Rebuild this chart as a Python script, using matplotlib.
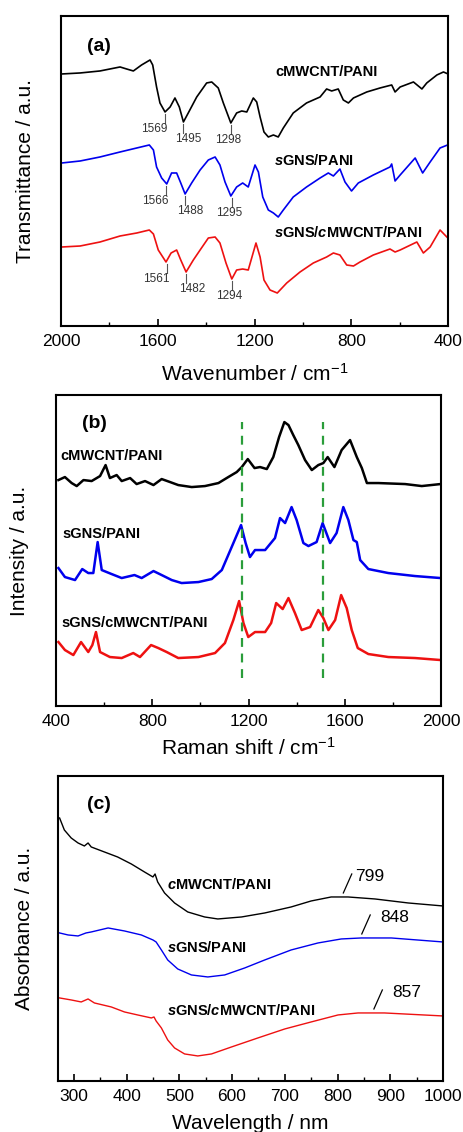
import matplotlib
matplotlib.use('Agg')
import matplotlib.pyplot as plt
from matplotlib.ticker import MultipleLocator

plt.rcParams['font.family'] = ['Liberation Sans', 'DejaVu Sans']
plt.rcParams['mathtext.fontset'] = 'custom'
plt.rcParams['mathtext.rm'] = 'Liberation Sans'
plt.rcParams['mathtext.it'] = 'Liberation Sans:italic:bold'
plt.rcParams['mathtext.bf'] = 'Liberation Sans:bold'

# ---- (a) FTIR ----
ir_x_black = [1997, 1921, 1839, 1756, 1729, 1701, 1667, 1632, 1621, 1605, 1591, 1570, 1549, 1529,
              1511, 1494, 1474, 1439, 1398, 1377, 1350, 1329, 1298, 1274, 1253, 1232, 1205, 1191,
              1177, 1161, 1143, 1122, 1102, 1081, 1040, 985, 929, 902, 881, 854, 833, 812, 791,
              736, 681, 633, 619, 598, 543, 508, 488, 446, 419, 400]
ir_y_black = [252, 253, 255, 259, 257, 255, 261, 266, 261, 239, 223, 214, 219, 228,
              219, 204, 213, 229, 243, 244, 238, 223, 203, 213, 215, 214, 228, 224,
              209, 194, 189, 191, 189, 198, 213, 223, 229, 237, 235, 237, 226, 223, 228,
              234, 238, 241, 234, 239, 244, 237, 243, 251, 254, 252]
ir_x_blue = [1997, 1921, 1839, 1756, 1687, 1635, 1618, 1605, 1584, 1563, 1543, 1522, 1505, 1487,
             1460, 1425, 1391, 1363, 1343, 1322, 1298, 1274, 1249, 1226, 1198, 1184, 1166, 1143,
             1122, 1102, 1081, 1040, 985, 929, 895, 874, 847, 826, 799, 771, 709, 640, 633, 619,
             598, 536, 505, 474, 433, 402]
ir_y_blue = [163, 165, 169, 174, 178, 181, 176, 159, 148, 142, 153, 153, 143, 132,
             143, 156, 166, 169, 161, 144, 130, 139, 143, 139, 161, 154, 129, 116,
             113, 109, 116, 129, 139, 148, 153, 150, 157, 144, 135, 143, 151, 159, 162, 145,
             151, 168, 153, 164, 178, 181]
ir_x_red = [1997, 1921, 1839, 1756, 1687, 1635, 1618, 1598, 1566, 1545, 1522, 1505, 1483, 1453,
            1425, 1391, 1363, 1343, 1318, 1294, 1274, 1249, 1226, 1194, 1177, 1161, 1136, 1106,
            1067, 1012, 957, 902, 874, 847, 819, 791, 764, 709, 640, 619, 598, 529, 502, 474,
            433, 405]
ir_y_red = [79, 80, 84, 90, 93, 96, 92, 76, 64, 73, 76, 66, 54, 66,
            76, 88, 89, 83, 63, 47, 56, 57, 56, 83, 69, 46, 36, 33,
            43, 54, 63, 69, 73, 71, 61, 60, 64, 71, 77, 74, 76, 84, 73, 79,
            96, 89]
ir_peaks = [[1569, 1495, 1298], [1566, 1488, 1295], [1561, 1482, 1294]]
ir_peak_y = [[214, 204, 203], [142, 132, 130], [64, 54, 47]]

# ---- (b) Raman ----
ra_x_black = [410, 437, 465, 486, 514, 548, 583, 606, 624, 652, 673, 708, 735, 770, 805, 839, 874,
              908, 964, 1019, 1075, 1116, 1151, 1172, 1197, 1225, 1248, 1276, 1303, 1327, 1349,
              1366, 1386, 1407, 1435, 1463, 1490, 1511, 1529, 1557, 1587, 1622, 1650, 1671, 1692,
              1740, 1851, 1920, 1998]
ra_y_black = [226, 229, 223, 220, 226, 225, 230, 241, 228, 231, 225, 228, 222, 225, 221, 227, 224,
              221, 219, 220, 223, 229, 234, 239, 247, 238, 239, 237, 249, 269, 284,
              281, 271, 261, 246, 236, 241, 243, 249, 239, 256, 266, 249, 238, 223,
              223, 222, 220, 222]
ra_x_blue = [410, 437, 479, 509, 534, 555, 573, 590, 631, 673, 726, 756, 805, 839, 881, 922, 992,
             1047, 1089, 1130, 1169, 1188, 1206, 1227, 1269, 1310, 1331, 1352, 1379, 1400, 1428,
             1449, 1483, 1508, 1539, 1566, 1594, 1615, 1636, 1650, 1664, 1698, 1781, 1892, 1998]
ra_y_blue = [138, 129, 126, 137, 133, 133, 164, 136, 132, 128, 131, 128, 135, 131, 126, 123, 124,
             127, 136, 159, 181, 163, 149, 156, 156, 168, 188, 183, 199, 186, 163,
             160, 164, 183, 163, 173, 199, 186, 166, 164, 146, 137, 133, 130, 128]
ra_x_red = [410, 437, 472, 504, 534, 551, 566, 583, 624, 673, 721, 749, 795, 825, 860, 908, 992,
            1061, 1102, 1137, 1161, 1179, 1199, 1227, 1269, 1294, 1315, 1342, 1366, 1393, 1421,
            1456, 1490, 1511, 1532, 1560, 1585, 1608, 1629, 1654, 1698, 1781, 1892, 1998]
ra_y_red = [64, 56, 51, 64, 54, 61, 74, 54, 49, 48, 53, 49, 61, 58, 54, 48, 49,
            53, 63, 86, 105, 83, 69, 74, 74, 83, 103, 97, 108, 93, 76,
            79, 96, 88, 76, 86, 111, 98, 76, 58, 52, 49, 48, 46]
ra_guides = [1172, 1508]

# ---- (c) UV-vis ----
uv_x_black = [273, 282, 295, 308, 320, 327, 333, 358, 383, 409, 434, 450, 454, 459, 472, 491, 516,
              548, 573, 618, 662, 712, 750, 788, 820, 871, 934, 1000]
uv_y_black = [263, 251, 243, 238, 235, 238, 234, 229, 224, 217, 209, 204, 207, 199, 188, 178, 169,
              164, 162, 164, 168, 174, 180, 184, 184, 182, 178, 175]
uv_x_blue = [273, 289, 308, 323, 333, 365, 396, 428, 450, 456, 466, 478, 497, 523, 554, 586, 624,
             662, 712, 763, 807, 845, 902, 1000]
uv_y_blue = [148, 146, 145, 148, 149, 153, 150, 146, 141, 139, 131, 121, 112, 106, 104, 106, 113,
             121, 131, 138, 142, 143, 143, 139]
uv_x_red = [273, 295, 314, 327, 339, 371, 396, 421, 447, 452, 456, 466, 478, 491, 510, 535, 561,
            599, 649, 700, 750, 801, 839, 889, 1000]
uv_y_red = [83, 81, 79, 82, 78, 74, 69, 66, 63, 64, 60, 53, 41, 33, 27, 25, 27,
            34, 43, 52, 59, 66, 68, 68, 65]
uv_peaks = [799, 848, 857]
uv_peak_y = [184, 143, 68]

names = ['cMWCNT/PANI', 'sGNS/PANI', 'sGNS/cMWCNT/PANI']
colors = ['black', '#0000ee', '#ee1111']

fig = plt.figure(figsize=(4.63, 11.32), dpi=100)


def style(ax, xlim, ylim, major, minor):
    ax.set_xlim(*xlim)
    ax.set_ylim(*ylim)
    ax.xaxis.set_major_locator(MultipleLocator(major))
    ax.xaxis.set_minor_locator(MultipleLocator(minor))
    ax.tick_params(axis='x', which='both', direction='in', top=False, labelsize=12.5, pad=6)
    ax.tick_params(axis='x', which='major', length=5, width=1.2)
    ax.tick_params(axis='x', which='minor', length=3, width=1.0)
    ax.set_yticks([])
    for s in ax.spines.values():
        s.set_linewidth(1.5)


lab = dict(fontsize=10.5, fontweight='bold', va='center')

# (a)
ax1 = fig.add_axes([0.1318, 0.7120, 0.8359, 0.2739])
for xs, ys, c in zip([ir_x_black, ir_x_blue, ir_x_red], [ir_y_black, ir_y_blue, ir_y_red], colors):
    ax1.plot(xs, ys, color=c, lw=1.2)
style(ax1, (2000, 400), (0, 310), 400, 200)
dxs = [-8, 4, -2]
for pk, py in zip(ir_peaks, ir_peak_y):
    for x, y, dx in zip(pk, py, dxs):
        ax1.plot([x, x], [y - 2, y - 11], color='#555555', lw=0.8)
        ax1.annotate(str(x), (x, y - 17), xytext=(dx, 0), textcoords='offset points',
                     ha='center', va='center', fontsize=8.5, color='#333333')
ax1.text(1115, 254, 'cMWCNT/PANI', **lab)
ax1.text(1119, 165, r'$\mathit{s}$GNS/PANI', **lab)
ax1.text(1119, 93, r'$\mathit{s}$GNS/$\mathit{c}$MWCNT/PANI', **lab)
ax1.text(1893, 279, '(a)', fontsize=14, fontweight='bold', va='center')
ax1.set_xlabel('Wavenumber / cm$^{-1}$', fontsize=15, labelpad=10)
ax1.set_ylabel('Transmittance / a.u.', fontsize=15, labelpad=18.5)

# (b)
ax2 = fig.add_axes([0.1210, 0.3763, 0.8315, 0.2747])
for xs, ys, c in zip([ra_x_black, ra_x_blue, ra_x_red], [ra_y_black, ra_y_blue, ra_y_red], colors):
    ax2.plot(xs, ys, color=c, lw=1.8)
for g in ra_guides:
    ax2.plot([g, g], [28, 284], color='#2a9d3a', lw=1.6, ls=(0, (4, 3)))
style(ax2, (400, 2000), (0, 311), 400, 200)
ax2.text(417, 250, names[0], **lab)
ax2.text(425, 172, names[1], **lab)
ax2.text(421, 83, names[2], **lab)
ax2.text(508, 283, '(b)', fontsize=14, fontweight='bold', va='center')
ax2.set_xlabel('Raman shift / cm$^{-1}$', fontsize=15, labelpad=5.5)
ax2.set_ylabel('Intensity / a.u.', fontsize=15, labelpad=19.5)

# (c)
ax3 = fig.add_axes([0.1253, 0.0451, 0.8315, 0.2694])
for xs, ys, c in zip([uv_x_black, uv_x_blue, uv_x_red], [uv_y_black, uv_y_blue, uv_y_red], colors):
    ax3.plot(xs, ys, color=c, lw=1.0)
style(ax3, (270, 1000), (0, 305), 100, 50)
slash_dx = [12, -2, 12]
text_dx = [34, 33, 46]
for x, y, sd, td in zip(uv_peaks, uv_peak_y, slash_dx, text_dx):
    ax3.plot([x + sd, x + sd + 16], [y + 4, y + 23], color='black', lw=0.9)
    ax3.text(x + td, y + 20, str(x), fontsize=12.5, va='center')
ax3.text(476, 196, r'$\mathit{c}$MWCNT/PANI', **lab)
ax3.text(476, 133, r'$\mathit{s}$GNS/PANI', **lab)
ax3.text(476, 70, r'$\mathit{s}$GNS/$\mathit{c}$MWCNT/PANI', **lab)
ax3.text(325, 276, '(c)', fontsize=14, fontweight='bold', va='center')
ax3.set_xlabel('Wavelength / nm', fontsize=15, labelpad=7)
ax3.set_ylabel('Absorbance / a.u.', fontsize=15, labelpad=17.5)

fig.savefig('out.png', dpi=100)
